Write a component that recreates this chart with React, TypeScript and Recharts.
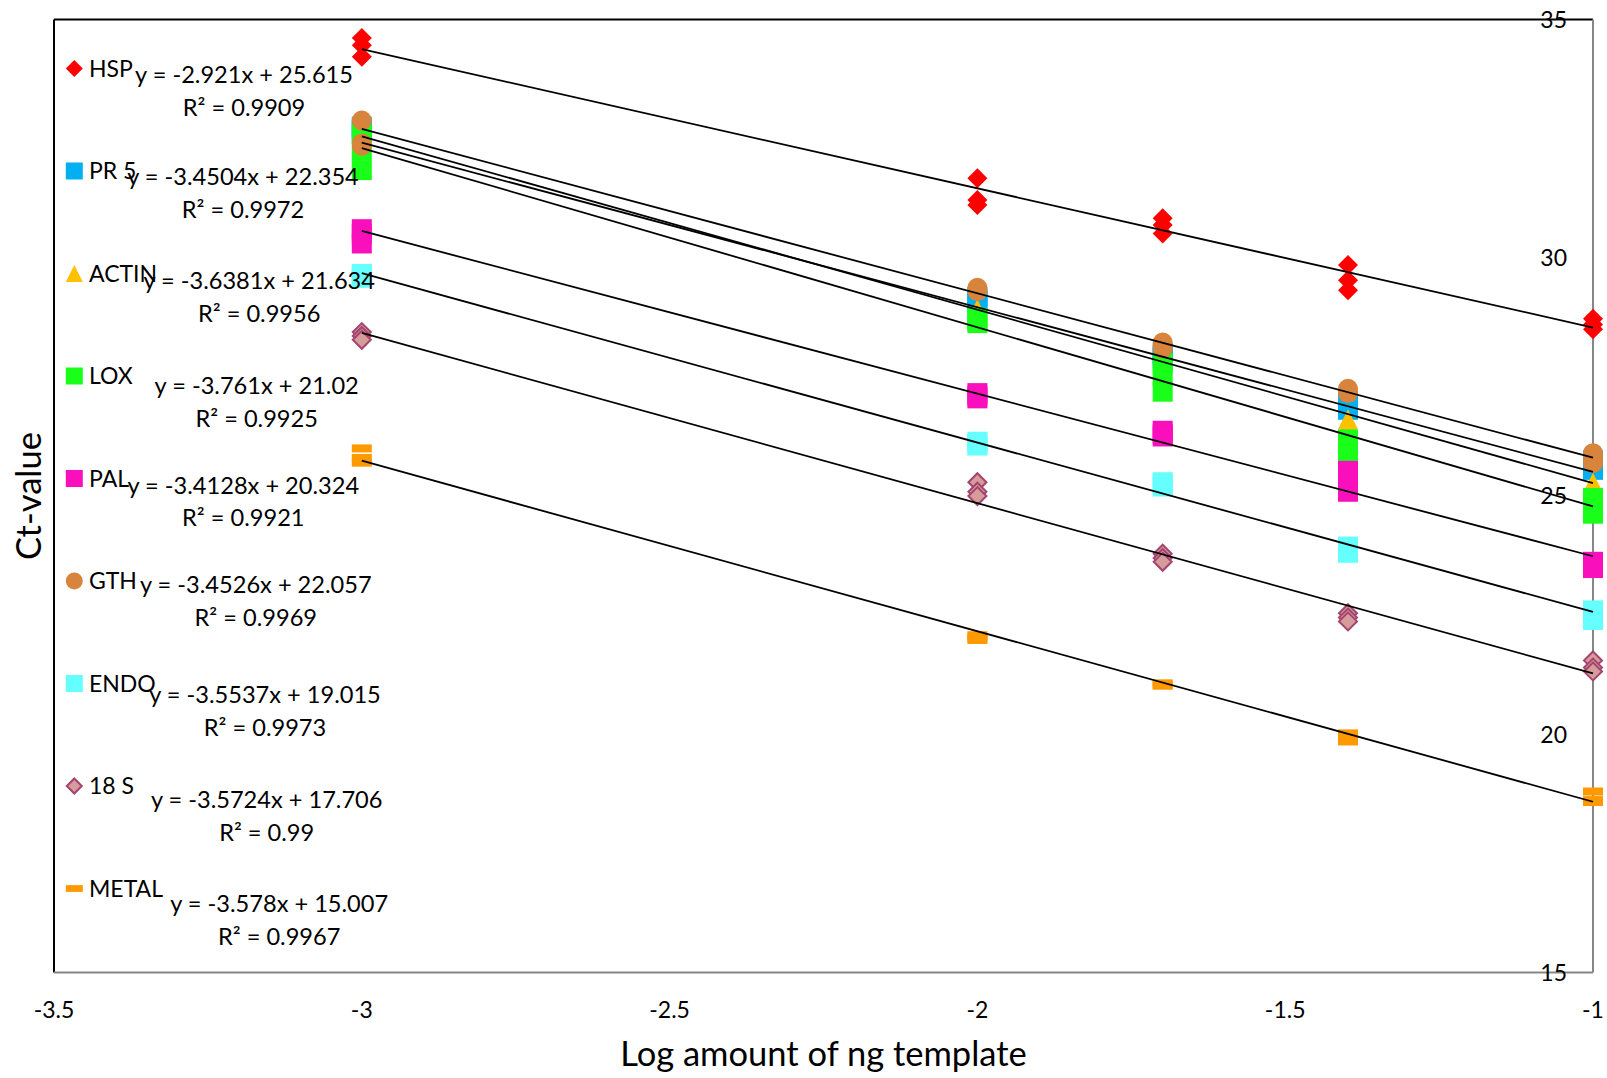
import React from "react";
import {
  ScatterChart,
  Scatter,
  XAxis,
  YAxis,
  ReferenceLine,
  Legend,
  Label,
} from "recharts";

// log10 of template amount (ng)
const LOG_AMOUNT = [-3, -2, -1.699, -1.398, -1];
const X_TICKS = [-3.5, -3, -2.5, -2, -1.5, -1];
const Y_TICKS = [15, 20, 25, 30, 35];

const GENES = ["HSP", "PR 5", "ACTIN", "LOX", "PAL", "GTH", "ENDO", "18 S", "METAL"];

// Ct triplicates per dilution
const hspCt = [[34.61, 34.46, 34.22], [31.67, 31.21, 31.11], [30.83, 30.69, 30.51], [29.85, 29.53, 29.32], [28.72, 28.6, 28.5]];
const pr5Ct = [[32.75, 32.7, 32.65], [29.18, 29.12, 29.08], [28.0, 27.95, 27.9], [26.95, 26.88, 26.81], [25.75, 25.65, 25.55]];
const actinCt = [[32.6, 32.55, 32.5], [28.92, 28.88, 28.85], [27.85, 27.8, 27.75], [26.61, 26.5, 26.4], [25.28, 25.22, 25.15]];
const loxCt = [[32.6, 32.25, 31.84], [28.74, 28.68, 28.63], [27.79, 27.5, 27.19], [26.19, 25.95, 25.8], [24.96, 24.8, 24.63]];
const palCt = [[30.6, 30.5, 30.3], [27.16, 27.1, 27.05], [26.37, 26.3, 26.25], [25.53, 25.3, 25.09], [23.62, 23.55, 23.49]];
const gthCt = [[32.88, 32.4, 32.35], [29.37, 29.33, 29.3], [28.22, 28.17, 28.1], [27.25, 27.2, 27.16], [25.9, 25.8, 25.69]];
const endoCt = [[29.66, 29.62, 29.58], [26.14, 26.1, 26.06], [25.29, 25.25, 25.2], [23.94, 23.88, 23.81], [22.6, 22.5, 22.4]];
const s18Ct = [[28.44, 28.36, 28.28], [25.29, 25.09, 25.0], [23.79, 23.7, 23.62], [22.54, 22.45, 22.37], [21.55, 21.4, 21.32]];
const metalCt = [[26.0, 25.8, 25.7], [22.08, 22.03, 21.98], [21.07, 21.04, 21.02], [20.02, 19.93, 19.85], [18.8, 18.62, 18.58]];

const CT_VALUES = [hspCt, pr5Ct, actinCt, loxCt, palCt, gthCt, endoCt, s18Ct, metalCt];

// linear trendlines as printed on the chart
const SLOPES = [-2.921, -3.4504, -3.6381, -3.761, -3.4128, -3.4526, -3.5537, -3.5724, -3.578];
const INTERCEPTS = [25.615, 22.354, 21.634, 21.02, 20.324, 22.057, 19.015, 17.706, 15.007];
const R_SQUARED = [0.9909, 0.9972, 0.9956, 0.9925, 0.9921, 0.9969, 0.9973, 0.99, 0.9967];

// styling
const MARKERS = [
  { kind: "diamond", fill: "#FF0000" },
  { kind: "square", fill: "#00B0F0" },
  { kind: "triangle", fill: "#FFC000" },
  { kind: "square", fill: "#1AFF1A" },
  { kind: "square", fill: "#FA0FBC" },
  { kind: "circle", fill: "#D8843C" },
  { kind: "square", fill: "#66FFFF" },
  { kind: "diamond", fill: "#D69B9B", stroke: "#A3456F" },
  { kind: "dash", fill: "#FF9900" },
];

const W = 1607;
const H = 1078;
const FONT = "Lato, 'Open Sans', sans-serif";
const FS = 23;
const EQ_FS = 23.6;
const TITLE_FS = 34.5;

// label layout (centres of the equation blocks)
const EQ_POS = [
  [244, 75], [243, 176.3], [259.2, 280.6], [256.7, 385.8], [243.3, 485.2],
  [255.8, 584.6], [265, 694.6], [266.7, 799.6], [279.2, 903.8],
];
const LEGEND_X = 74.3;
const LEGEND_Y0 = 68.5;
const LEGEND_STEP = 102.5;

type MarkerProps = { kind: string; cx: number; cy: number; size: number; fill: string; stroke?: string };

function Marker({ kind, cx, cy, size, fill, stroke }: MarkerProps) {
  const h = size / 2;
  if (kind === "diamond") {
    const r = stroke ? h - 1 : h;
    return (
      <polygon
        points={`${cx},${cy - r} ${cx + r},${cy} ${cx},${cy + r} ${cx - r},${cy}`}
        fill={fill}
        stroke={stroke ?? "none"}
        strokeWidth={stroke ? 2 : 0}
      />
    );
  }
  if (kind === "square") return <rect x={cx - h} y={cy - h} width={size} height={size} fill={fill} />;
  if (kind === "triangle")
    return <polygon points={`${cx},${cy - h} ${cx + h},${cy + h} ${cx - h},${cy + h}`} fill={fill} />;
  if (kind === "circle") return <circle cx={cx} cy={cy} r={h} fill={fill} />;
  return <rect x={cx - h} y={cy - size * 0.2} width={size} height={size * 0.4} fill={fill} />;
}

const seriesData = CT_VALUES.map((ct) =>
  LOG_AMOUNT.flatMap((x, i) => ct[i].map((y) => ({ x, y })))
);

function Overlay() {
  return (
    <svg width={W} height={H} style={{ position: "absolute", left: 0, top: 0, pointerEvents: "none" }}>
      {GENES.map((g, i) => {
        const cy = LEGEND_Y0 + i * LEGEND_STEP;
        const m = MARKERS[i];
        return (
          <g key={g}>
            <Marker kind={m.kind} cx={LEGEND_X} cy={cy} size={17} fill={m.fill} stroke={m.stroke} />
            <text x={89} y={cy + FS * 0.36} fontFamily={FONT} fontSize={FS} fill="#000">
              {g}
            </text>
          </g>
        );
      })}
      {GENES.map((g, i) => {
        const [ex, ey] = EQ_POS[i];
        return (
          <g key={`eq-${g}`} fontFamily={FONT} fontSize={EQ_FS} fill="#000" textAnchor="middle">
            <text x={ex} y={ey + EQ_FS * 0.36}>{`y = ${SLOPES[i]}x + ${INTERCEPTS[i]}`}</text>
            <text x={ex} y={ey + 32.8 + EQ_FS * 0.36}>{`R² = ${R_SQUARED[i]}`}</text>
          </g>
        );
      })}
      <text
        x={0}
        y={0}
        transform={`translate(${28.7 + TITLE_FS * 0.36}, 496) rotate(-90)`}
        textAnchor="middle"
        fontFamily={FONT}
        fontSize={TITLE_FS}
        fill="#000"
      >
        Ct-value
      </text>
    </svg>
  );
}

function XTick(props: any) {
  const { x, y, payload } = props;
  return (
    <text x={x} y={y + 45} textAnchor="middle" fontFamily={FONT} fontSize={FS} fill="#000">
      {payload.value}
    </text>
  );
}

function YTick(props: any) {
  const { x, y, payload } = props;
  return (
    <text x={x - 26} y={y + FS * 0.36} textAnchor="end" fontFamily={FONT} fontSize={FS} fill="#000">
      {payload.value}
    </text>
  );
}

export default function App() {
  return (
    <div style={{ position: "absolute", left: 0, top: 0, width: W, height: H, background: "#fff" }}>
      <ScatterChart
        width={W}
        height={H}
        margin={{ top: 19.5, left: 54, right: 13, bottom: 45.4 }}
      >
        <XAxis
          type="number"
          dataKey="x"
          domain={[-3.5, -1]}
          ticks={X_TICKS}
          interval={0}
          height={60}
          tickSize={0}
          tickMargin={0}
          tick={<XTick />}
          axisLine={{ stroke: "#878787", strokeWidth: 2 }}
          tickLine={false}
        >
          <Label
            content={(p: any) => (
              <text
                x={p.viewBox.x + p.viewBox.width / 2}
                y={p.viewBox.y + 81 + TITLE_FS * 0.36}
                textAnchor="middle"
                fontFamily={FONT}
                fontSize={TITLE_FS}
                fill="#000"
              >
                Log amount of ng template
              </text>
            )}
          />
        </XAxis>
        <YAxis
          type="number"
          dataKey="y"
          orientation="right"
          domain={[15, 35]}
          ticks={Y_TICKS}
          interval={0}
          width={1}
          tickSize={0}
          tickMargin={0}
          tick={<YTick />}
          axisLine={{ stroke: "#878787", strokeWidth: 2 }}
          tickLine={false}
        />
        <ReferenceLine x={-3.5} stroke="#000" strokeWidth={2} />
        <ReferenceLine y={35} stroke="#000" strokeWidth={2} />
        {GENES.map((g, i) => {
          const m = MARKERS[i];
          return (
            <Scatter
              key={g}
              name={g}
              data={seriesData[i]}
              isAnimationActive={false}
              shape={(p: any) => (
                <Marker kind={m.kind} cx={p.cx} cy={p.cy} size={20} fill={m.fill} stroke={m.stroke} />
              )}
            />
          );
        })}
        {GENES.map((g, i) => {
          const x0 = LOG_AMOUNT[0];
          const x1 = LOG_AMOUNT[LOG_AMOUNT.length - 1];
          return (
            <ReferenceLine
              key={`trend-${g}`}
              segment={[
                { x: x0, y: SLOPES[i] * x0 + INTERCEPTS[i] },
                { x: x1, y: SLOPES[i] * x1 + INTERCEPTS[i] },
              ]}
              stroke="#000"
              strokeWidth={1.8}
              zIndex={1000}
            />
          );
        })}
        <Legend
          layout="vertical"
          align="center"
          verticalAlign="middle"
          wrapperStyle={{ left: 0, top: 0, width: W, height: H, pointerEvents: "none" }}
          content={() => <Overlay />}
        />
      </ScatterChart>
    </div>
  );
}
